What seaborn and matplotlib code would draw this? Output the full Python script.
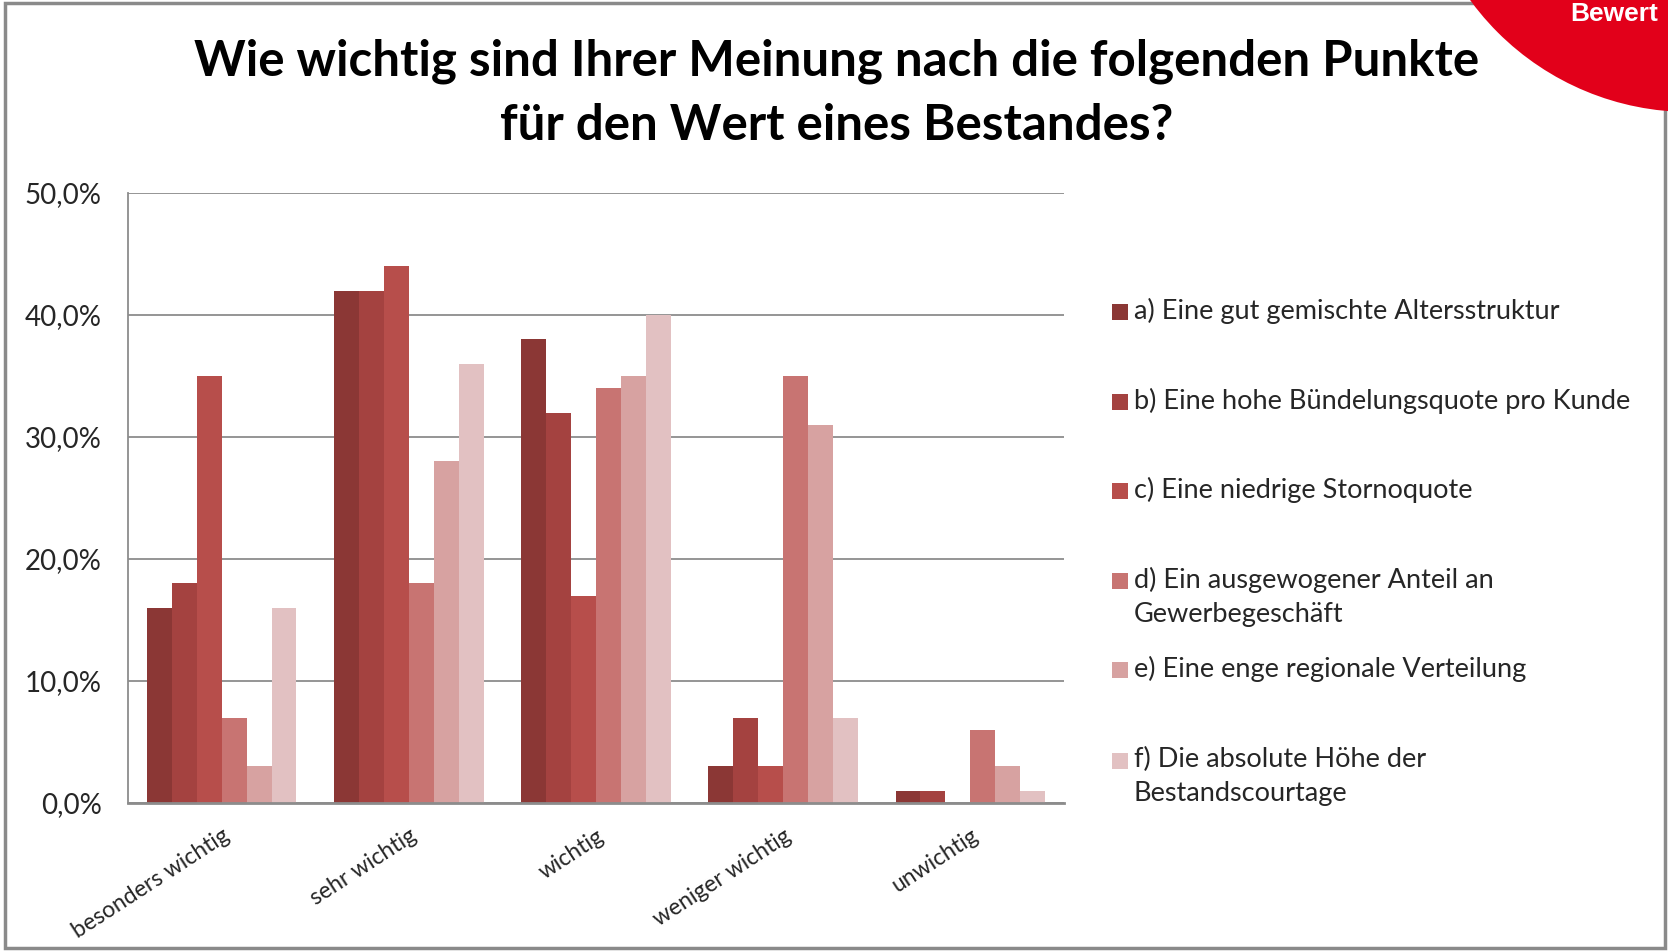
import matplotlib
matplotlib.use("Agg")
import matplotlib.pyplot as plt
import matplotlib.patches as mpatches
import matplotlib.ticker as mticker
import pandas as pd
import seaborn as sns

# --- data (percent) ---
categories = ["besonders wichtig", "sehr wichtig", "wichtig",
              "weniger wichtig", "unwichtig"]
series = [
    "a) Eine gut gemischte Altersstruktur",
    "b) Eine hohe Bündelungsquote pro Kunde",
    "c) Eine niedrige Stornoquote",
    "d) Ein ausgewogener Anteil an\nGewerbegeschäft",
    "e) Eine enge regionale Verteilung",
    "f) Die absolute Höhe der\nBestandscourtage",
]
vals_a = [16, 42, 38, 3, 1]
vals_b = [18, 42, 32, 7, 1]
vals_c = [35, 44, 17, 3, 0]
vals_d = [7, 18, 34, 35, 6]
vals_e = [3, 28, 35, 31, 3]
vals_f = [16, 36, 40, 7, 1]
colors = ["#8B3735", "#A44240", "#B74E4B", "#C87472", "#D7A2A1", "#E2C1C2"]
yticks = [0, 10, 20, 30, 40, 50]
title_lines = ["Wie wichtig sind Ihrer Meinung nach die folgenden Punkte",
               "für den Wert eines Bestandes?"]

rows = []
for name, vals in zip(series, [vals_a, vals_b, vals_c, vals_d, vals_e, vals_f]):
    for cat, v in zip(categories, vals):
        rows.append({"Kategorie": cat, "Punkt": name, "Anteil": v})
df = pd.DataFrame(rows)

sns.set_style("white")
plt.rcParams["font.family"] = ["Lato", "DejaVu Sans"]

W, H = 1668, 952
fig = plt.figure(figsize=(W / 100, H / 100), dpi=100)
ax = fig.add_axes([128 / W, 1 - 803 / H, (1064 - 128) / W, (803 - 193) / H])

sns.barplot(data=df, x="Kategorie", y="Anteil", hue="Punkt",
            order=categories, hue_order=series, palette=colors,
            saturation=1, width=0.8, gap=0, errorbar=None,
            legend=False, linewidth=0, ax=ax)

ax.set_xlim(-0.5, len(categories) - 0.5)
ax.set_ylim(0, 50)
ax.set_yticks(yticks)
ax.yaxis.set_major_formatter(
    mticker.FuncFormatter(lambda v, _: f"{v:.1f}%".replace(".", ",")))
ax.grid(axis="y", color="#8c8c8c", linewidth=1.3)
ax.set_axisbelow(True)
ax.set_xlabel("")
ax.set_ylabel("")
for side in ["top", "right"]:
    ax.spines[side].set_visible(False)
ax.spines["left"].set_color("#8c8c8c")
ax.spines["left"].set_linewidth(1.3)
ax.spines["bottom"].set_color("#8c8c8c")
ax.spines["bottom"].set_linewidth(2)
ax.tick_params(axis="y", length=0, pad=19, labelsize=20, labelcolor="#262626")
ax.tick_params(axis="x", length=0, pad=16, labelsize=16.5, labelcolor="#262626")
for lab in ax.get_xticklabels():
    lab.set_rotation(33)
    lab.set_ha("right")
    lab.set_rotation_mode("anchor")

# legend laid out by hand, like the original
leg_y = [312, 402, 491, 581, 670, 761]
for name, col, y in zip(series, colors, leg_y):
    fig.patches.append(mpatches.Rectangle(
        (1112 / W, 1 - (y + 8) / H), 16 / W, 16 / H,
        transform=fig.transFigure, facecolor=col, edgecolor="none"))
    fig.text(1134 / W, 1 - (y - 14) / H, name, fontsize=19.5,
             color="#262626", ha="left", va="top", linespacing=1.45)

# title
fig.text(837 / W, 1 - 76 / H, title_lines[0], fontsize=35.5,
         fontweight="bold", ha="center", va="baseline", color="black")
fig.text(837 / W, 1 - 140 / H, title_lines[1], fontsize=35.5,
         fontweight="bold", ha="center", va="baseline", color="black")

# frame and red corner badge
fig.patches.append(mpatches.Rectangle(
    (5 / W, 4 / H), (1665 - 5) / W, (949 - 4) / H,
    transform=fig.transFigure, fill=False, edgecolor="#8a8a8a", linewidth=2.5))
fig.patches.append(mpatches.Ellipse(
    (1690 / W, 1 + 160 / H), 2 * 272 / W, 2 * 272 / H,
    transform=fig.transFigure, facecolor="#E2001A", edgecolor="none"))
fig.text(1570 / W, 1 - 21 / H, "Bewert", fontsize=19, fontweight="bold",
         family=["Liberation Sans", "DejaVu Sans"], color="white",
         ha="left", va="baseline")

fig.savefig("out.png", dpi=100, facecolor="white")
